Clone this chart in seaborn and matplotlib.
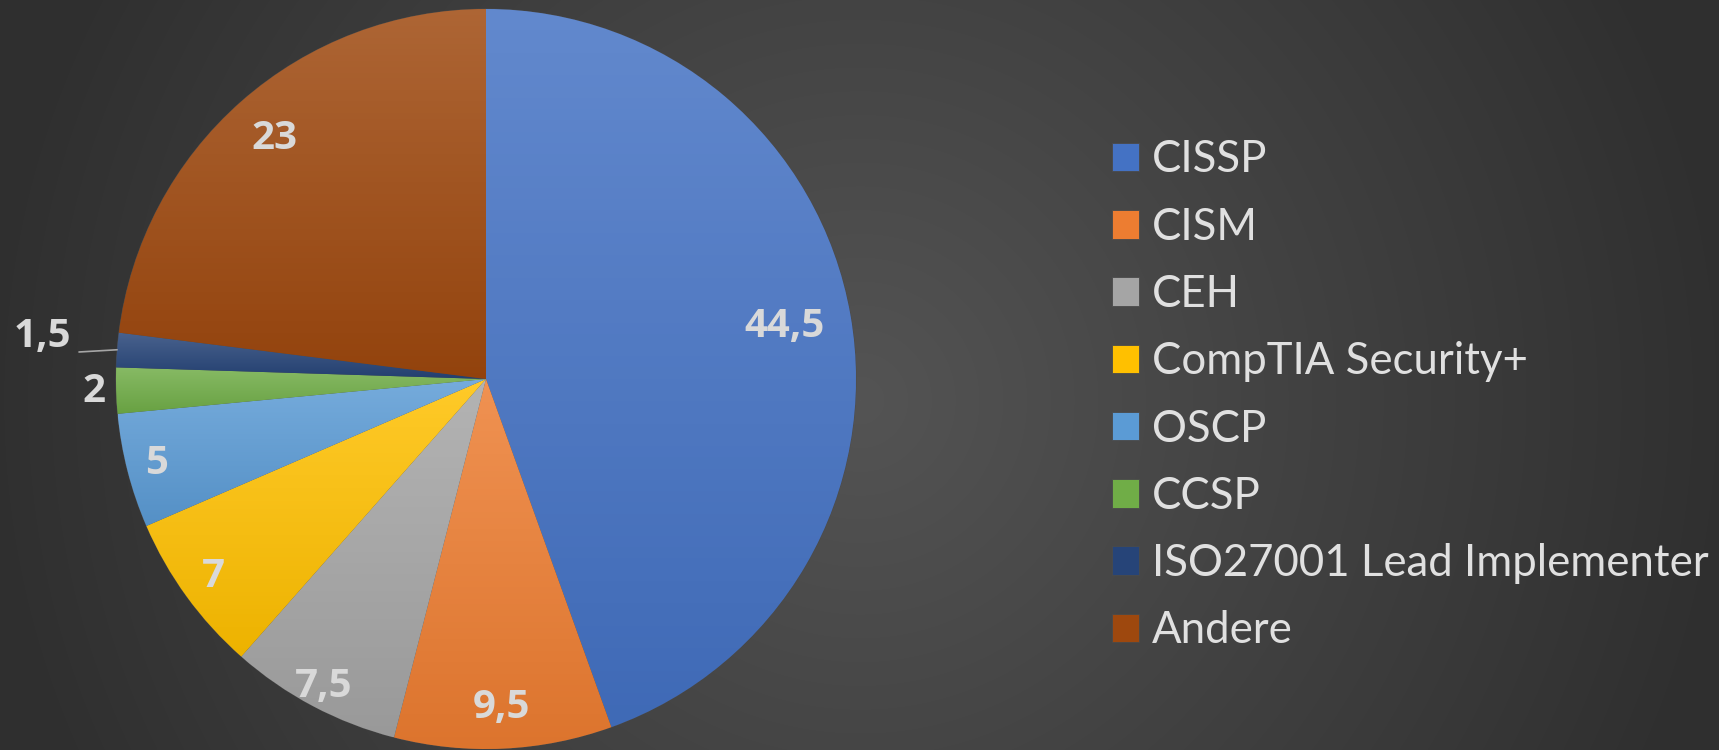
import numpy as np
import matplotlib
matplotlib.use("Agg")
import matplotlib.pyplot as plt
import matplotlib.colors as mcolors
import seaborn as sns

categories = ["CISSP", "CISM", "CEH", "CompTIA Security+", "OSCP", "CCSP",
              "ISO27001 Lead Implementer", "Andere"]
values = [44.5, 9.5, 7.5, 7, 5, 2, 1.5, 23]
value_labels = ["44,5", "9,5", "7,5", "7", "5", "2", "1,5", "23"]
colors = ["#4472C4", "#ED7D31", "#A5A5A5", "#FFC000", "#5B9BD5", "#70AD47",
          "#264478", "#9E480E"]
label_r = [0.82, 0.89, 0.94, 0.91, 0.92, 1.06, 1.2, 0.865]

sns.set_theme(style="dark")
plt.rcParams["font.family"] = ["Lato", "DejaVu Sans"]
txt = "#d9d9d9"

W, H = 1719, 750
fig = plt.figure(figsize=(W / 100, H / 100), dpi=100)

# dark radial background
bg = fig.add_axes([0, 0, 1, 1])
bg.axis("off")
yy, xx = np.mgrid[0:H, 0:W]
d = np.clip(np.hypot(xx - 860, yy - 400) / 880, 0, 1)
c0, c1 = np.array([0x54] * 3) / 255, np.array([0x2f] * 3) / 255
bg.imshow(c0 + (c1 - c0) * d[..., None], aspect="auto")

cx, cy, r = 486, 379, 370
ax = fig.add_axes([(cx - r) / W, (H - cy - r) / H, 2 * r / W, 2 * r / H])
wedges, _ = ax.pie(values, colors=colors, startangle=90, counterclock=False,
                   radius=1, wedgeprops=dict(linewidth=0.6, edgecolor="#4a4a4a"))
ax.set_aspect("equal")
ax.axis("off")

# vertical gradient inside each slice
for w, col in zip(wedges, colors):
    base = np.array(mcolors.to_rgb(col))
    top = base + (1 - base) * 0.16
    bot = base * 0.93
    t = np.linspace(0, 1, 64)[:, None]
    grad = (top + (bot - top) * t)[:, None, :].repeat(2, axis=1)
    bb = w.get_path().get_extents()
    im = ax.imshow(grad, extent=[bb.x0, bb.x1, bb.y0, bb.y1], aspect="auto",
                   origin="upper", zorder=w.get_zorder() + 0.1)
    im.set_clip_path(w)
ax.set_xlim(-1, 1)
ax.set_ylim(-1, 1)

lab_font = dict(fontsize=29, fontweight="bold", color=txt,
                family=["Open Sans", "DejaVu Sans"], clip_on=False, zorder=6)
for w, lab, rr in zip(wedges, value_labels, label_r):
    th = np.deg2rad((w.theta1 + w.theta2) / 2)
    x, y = rr * np.cos(th), rr * np.sin(th)
    if lab == "1,5":
        ax.plot([-1.10, -0.997], [0.073, 0.079], color="#a6a6a6", lw=1.2,
                clip_on=False, zorder=5)
        ax.text(-1.12, 0.115, lab, ha="right", va="center", **lab_font)
    else:
        ax.text(x, y, lab, ha="center", va="center", **lab_font)

leg = fig.legend(wedges, categories, loc="upper left",
                 bbox_to_anchor=(1094 / W, 1 - 122 / H), frameon=False,
                 fontsize=31.5, labelcolor="#e0e0e0", handlelength=0.62,
                 handleheight=0.62, handletextpad=0.3, labelspacing=0.6,
                 borderaxespad=0)

fig.savefig("out.png", dpi=100)
